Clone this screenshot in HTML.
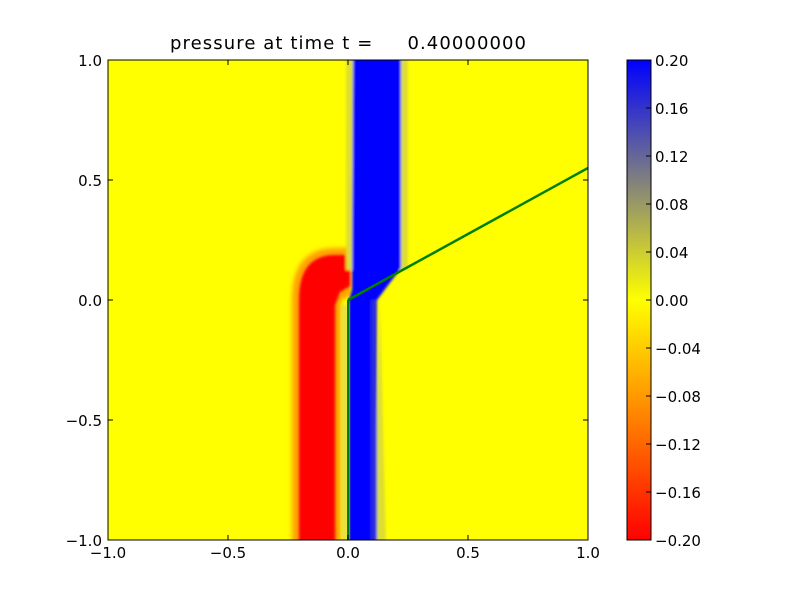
<!DOCTYPE html>
<html><head><style>
body{margin:0;background:#fff;}
svg text{font-family:"DejaVu Sans","Liberation Sans",sans-serif;}
</style></head><body>
<svg width="800" height="600" viewBox="0 0 800 600" xmlns="http://www.w3.org/2000/svg">
<rect width="800" height="600" fill="#fff"/>
<defs>
<clipPath id="c"><rect x="108" y="60" width="480" height="480"/></clipPath>
<filter id="b" x="-20%" y="-20%" width="140%" height="140%"><feGaussianBlur stdDeviation="2.5"/></filter>
<filter id="b2" x="-20%" y="-20%" width="140%" height="140%"><feGaussianBlur stdDeviation="1.2"/></filter>
<linearGradient id="cb" x1="0" y1="0" x2="0" y2="1">
<stop offset="0" stop-color="#0000ff"/>
<stop offset="0.5" stop-color="#ffff00"/>
<stop offset="1" stop-color="#ff0000"/>
</linearGradient>
</defs>
<text x="348" y="49" font-size="18" text-anchor="middle" textLength="356" lengthAdjust="spacing" xml:space="preserve" style="white-space:pre">pressure at time t =     0.40000000</text>
<g clip-path="url(#c)">
<rect x="108" y="60" width="480" height="480" fill="#ffff00"/>
<g filter="url(#b)">
<path d="M292,545 L292,300 Q292,248 335,248 L351,248 L351,295 L341,300 L341,545 Z" fill="#ffa000"/>
</g>
<g filter="url(#b2)">
<path d="M299,545 L299,300 Q299,255 335,255 L350,255 L350,286 L340,292 L335,305 L335,545 Z" fill="#ff0000"/>
<rect x="346" y="55" width="62" height="215" fill="#dede30"/>
<path d="M380,300 L386,545 L374,545 Z" fill="#dede30"/>
<path d="M353,55 L401,55 L401,268 L377,300 L377,545 L349,545 L349,300 L352,290 L352,270 Z" fill="#0000ff"/>
<rect x="371" y="300" width="6" height="245" fill="#2a2ae0"/>
<rect x="341" y="305" width="6" height="240" fill="#e8e040"/>
</g>
<line x1="348" y1="300" x2="588" y2="168" stroke="#008000" stroke-width="2.5"/>
<line x1="348" y1="300" x2="348" y2="540" stroke="#008000" stroke-width="2"/>
</g>
<rect x="108" y="60" width="480" height="480" fill="none" stroke="#000" stroke-width="1"/>
<g stroke="#000" stroke-width="1">
<line x1="108" y1="540" x2="108" y2="535"/><line x1="228" y1="540" x2="228" y2="535"/><line x1="348" y1="540" x2="348" y2="535"/><line x1="468" y1="540" x2="468" y2="535"/><line x1="588" y1="540" x2="588" y2="535"/>
<line x1="108" y1="60" x2="108" y2="65"/><line x1="228" y1="60" x2="228" y2="65"/><line x1="348" y1="60" x2="348" y2="65"/><line x1="468" y1="60" x2="468" y2="65"/><line x1="588" y1="60" x2="588" y2="65"/>
<line x1="108" y1="60" x2="113" y2="60"/><line x1="108" y1="180" x2="113" y2="180"/><line x1="108" y1="300" x2="113" y2="300"/><line x1="108" y1="420" x2="113" y2="420"/><line x1="108" y1="540" x2="113" y2="540"/>
<line x1="588" y1="60" x2="583" y2="60"/><line x1="588" y1="180" x2="583" y2="180"/><line x1="588" y1="300" x2="583" y2="300"/><line x1="588" y1="420" x2="583" y2="420"/><line x1="588" y1="540" x2="583" y2="540"/>
</g>
<g font-size="15" text-anchor="middle">
<text x="108" y="558">−1.0</text><text x="228" y="558">−0.5</text><text x="348" y="558">0.0</text><text x="468" y="558">0.5</text><text x="588" y="558">1.0</text>
</g>
<g font-size="15" text-anchor="end">
<text x="102" y="66">1.0</text><text x="102" y="186">0.5</text><text x="102" y="306">0.0</text><text x="102" y="426">−0.5</text><text x="102" y="546">−1.0</text>
</g>
<rect x="627" y="60" width="24" height="480" fill="url(#cb)" stroke="#000" stroke-width="1"/>
<g stroke="#000" stroke-width="1">
<line x1="651" y1="108" x2="646" y2="108"/><line x1="651" y1="156" x2="646" y2="156"/><line x1="651" y1="204" x2="646" y2="204"/><line x1="651" y1="252" x2="646" y2="252"/><line x1="651" y1="300" x2="646" y2="300"/><line x1="651" y1="348" x2="646" y2="348"/><line x1="651" y1="396" x2="646" y2="396"/><line x1="651" y1="444" x2="646" y2="444"/><line x1="651" y1="492" x2="646" y2="492"/>
</g>
<g font-size="15">
<text x="655" y="66">0.20</text><text x="655" y="114">0.16</text><text x="655" y="162">0.12</text><text x="655" y="210">0.08</text><text x="655" y="258">0.04</text><text x="655" y="306">0.00</text><text x="655" y="354">−0.04</text><text x="655" y="402">−0.08</text><text x="655" y="450">−0.12</text><text x="655" y="498">−0.16</text><text x="655" y="546">−0.20</text>
</g>
</svg>
</body></html>
